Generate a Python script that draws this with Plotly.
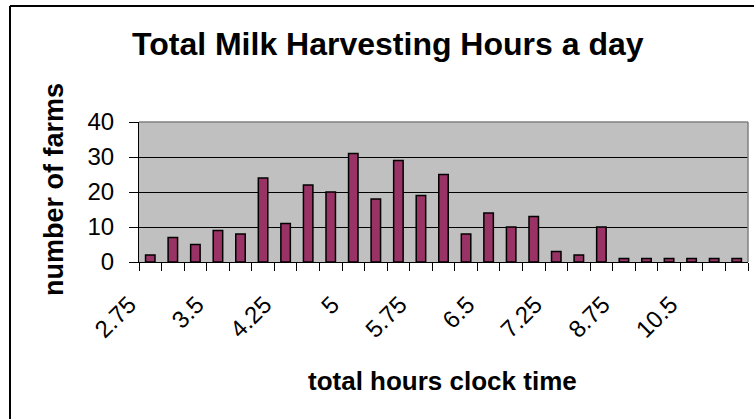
import plotly.graph_objects as go

# data
hours = ["2.75", "3", "3.25", "3.5", "3.75", "4", "4.25", "4.5", "4.75", "5",
         "5.25", "5.5", "5.75", "6", "6.25", "6.5", "6.75", "7", "7.25", "7.5",
         "8", "8.75", "9", "9.5", "10.5", "11", "12"]
farms = [2, 7, 5, 9, 8, 24, 11, 22, 20, 31, 18, 29, 19, 25, 8, 14, 10, 13, 3, 2,
         10, 1, 1, 1, 1, 1, 1]
tick_labels = [h if i % 3 == 0 else "" for i, h in enumerate(hours)]
y_ticks = [0, 10, 20, 30, 40]

W, H = 754, 419
L, R, T, B = 139, 748, 122, 262
pw, ph = R - L, B - T

def px(x):
    return (x - L) / pw

def py(y):
    return (B - y) / ph

FONT = "Arial, 'Liberation Sans', sans-serif"

fig = go.Figure(go.Bar(
    x=hours, y=farms,
    marker=dict(color="#993366", line=dict(color="black", width=1.5)),
))

fig.update_layout(
    width=W, height=H,
    margin=dict(l=L, r=W - R, t=T, b=H - B, pad=0),
    paper_bgcolor="white", plot_bgcolor="#C0C0C0",
    bargap=0.58, showlegend=False,
    font=dict(family=FONT, color="black"),
    xaxis=dict(
        type="category", categoryorder="array", categoryarray=hours,
        tickmode="array", tickvals=hours, ticktext=tick_labels,
        tickson="boundaries", ticks="outside", ticklen=8, tickwidth=1,
        tickcolor="black", showline=True, linecolor="black", linewidth=1,
        showgrid=False, tickangle=-45, tickfont=dict(size=24),
        ticklabelstandoff=18, ticklabelshift=-21,
        range=[-0.5, len(hours) - 0.5],
    ),
    yaxis=dict(
        range=[0, 40], tickmode="array", tickvals=y_ticks,
        ticks="outside", ticklen=9, tickcolor="black",
        showline=True, linecolor="black", linewidth=1,
        showgrid=True, gridcolor="black", gridwidth=1, zeroline=False,
        tickfont=dict(size=24), ticklabelstandoff=10,
    ),
    shapes=[
        # chart frame (left and top edges visible)
        dict(type="line", xref="paper", yref="paper", x0=px(10), x1=px(10),
             y0=py(H + 20), y1=py(6), line=dict(color="black", width=2)),
        dict(type="line", xref="paper", yref="paper", x0=px(10), x1=px(W + 20),
             y0=py(6), y1=py(6), line=dict(color="black", width=2)),
        # plot area border top / right
        dict(type="line", xref="paper", yref="paper", x0=0, x1=1, y0=1, y1=1,
             line=dict(color="#808080", width=1.5)),
        dict(type="line", xref="paper", yref="paper", x0=1, x1=1, y0=0, y1=1,
             line=dict(color="#808080", width=1.5)),
    ],
    annotations=[
        dict(text="<b>Total Milk Harvesting Hours a day</b>", xref="paper", yref="paper",
             x=px(388), y=py(44), xanchor="center", yanchor="middle",
             showarrow=False, font=dict(size=32)),
        dict(text="<b>number of farms</b>", xref="paper", yref="paper",
             x=px(54), y=py(190), xanchor="center", yanchor="middle",
             textangle=-90, showarrow=False, font=dict(size=27)),
        dict(text="<b>total hours clock time</b>", xref="paper", yref="paper",
             x=px(442), y=py(381), xanchor="center", yanchor="middle",
             showarrow=False, font=dict(size=26)),
    ],
)

fig.write_html("out.html", config={"displayModeBar": False},
               post_script="document.body.style.margin='0';")
